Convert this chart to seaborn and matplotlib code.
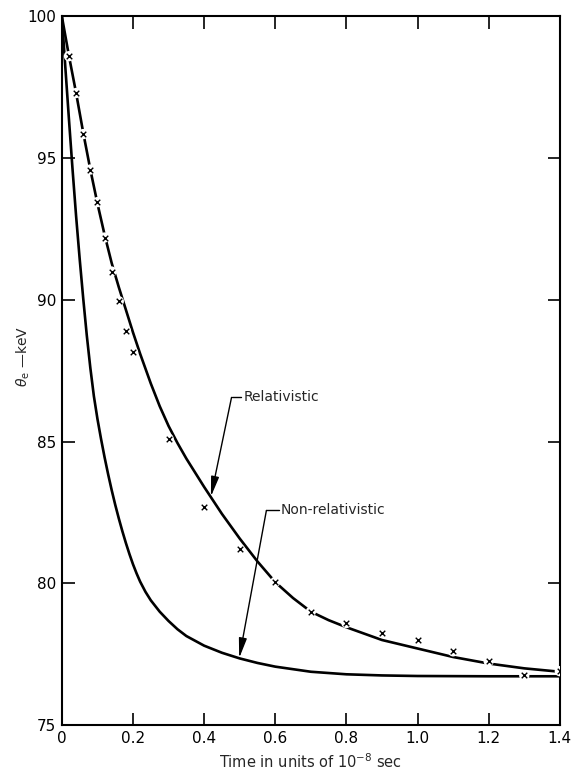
import matplotlib
matplotlib.use("Agg")
import matplotlib.pyplot as plt
import seaborn as sns
import pandas as pd

# ---- data ----
rel_t = [0.0, 0.02, 0.04, 0.06, 0.08, 0.10, 0.12, 0.14, 0.16, 0.18, 0.20, 0.22,
         0.25, 0.275, 0.30, 0.325, 0.35, 0.40, 0.45, 0.50, 0.55, 0.60, 0.65, 0.70,
         0.75, 0.80, 0.90, 1.00, 1.10, 1.20, 1.30, 1.40]
rel_e = [100.0, 98.6, 97.3, 95.9, 94.6, 93.4, 92.3, 91.3, 90.45, 89.65, 88.85, 88.1,
         87.05, 86.25, 85.55, 84.95, 84.4, 83.4, 82.45, 81.58, 80.77, 80.04, 79.48, 79.0,
         78.7, 78.45, 78.0, 77.7, 77.4, 77.17, 77.0, 76.88]

nonrel_t = [0.0, 0.01, 0.02, 0.03, 0.04, 0.05, 0.06, 0.07, 0.08, 0.09, 0.10, 0.11,
            0.12, 0.13, 0.14, 0.15, 0.16, 0.17, 0.18, 0.19, 0.20, 0.21, 0.22, 0.235,
            0.25, 0.275, 0.30, 0.325, 0.35, 0.40, 0.45, 0.50, 0.55, 0.60, 0.70, 0.80,
            0.90, 1.00, 1.20, 1.40]
nonrel_e = [100.0, 98.15, 96.35, 94.6, 92.95, 91.45, 90.05, 88.75, 87.6, 86.6, 85.8, 85.1,
            84.45, 83.85, 83.29, 82.77, 82.29, 81.84, 81.42, 81.03, 80.67, 80.35, 80.06, 79.7,
            79.4, 79.0, 78.67, 78.38, 78.14, 77.8, 77.55, 77.35, 77.19, 77.06, 76.88, 76.79,
            76.75, 76.73, 76.72, 76.72]

pts_t = [0.02, 0.04, 0.06, 0.08, 0.10, 0.12, 0.14, 0.16, 0.18, 0.20, 0.3, 0.4,
         0.5, 0.6, 0.7, 0.8, 0.9, 1.0, 1.1, 1.2, 1.3, 1.4]
pts_e = [98.6, 97.3, 95.85, 94.6, 93.45, 92.2, 91.0, 89.95, 88.9, 88.15, 85.1, 82.7,
         81.2, 80.05, 79.0, 78.6, 78.25, 78.0, 77.6, 77.25, 76.75, 76.9]

x_ticks = [0, 0.2, 0.4, 0.6, 0.8, 1.0, 1.2, 1.4]
x_labels = ["0", "0.2", "0.4", "0.6", "0.8", "1.0", "1.2", "1.4"]
y_ticks = [75, 80, 85, 90, 95, 100]
y_labels = ["75", "80", "85", "90", "95", "100"]

rel_df = pd.DataFrame({"t": rel_t, "e": rel_e})
non_df = pd.DataFrame({"t": nonrel_t, "e": nonrel_e})
pts_df = pd.DataFrame({"t": pts_t, "e": pts_e})

sns.set_theme(style="ticks")
plt.rcParams["font.family"] = ["DejaVu Sans"]
plt.rcParams["mathtext.fontset"] = "dejavusans"

fig = plt.figure(figsize=(5.73, 7.70), dpi=100)
ax = fig.add_axes([0.108, 0.0584, 0.869, 0.9202])

sns.lineplot(data=rel_df, x="t", y="e", ax=ax, color="black", lw=1.9,
             sort=False, estimator=None, zorder=2)
sns.lineplot(data=non_df, x="t", y="e", ax=ax, color="black", lw=1.9,
             sort=False, estimator=None, zorder=2)
# white halos that break the curves at the measured points
sns.scatterplot(data=pts_df, x="t", y="e", ax=ax, color="white", s=55,
                edgecolor="none", zorder=3)
sns.scatterplot(data=pts_df, x="t", y="e", ax=ax, marker="x", color="black",
                s=16, linewidth=1.0, zorder=4)

# annotations
arrow = dict(arrowstyle="-|>,head_length=1.0,head_width=0.2",
             color="black", lw=1.0, shrinkA=0, shrinkB=0)
ax.annotate("", xy=(0.419, 83.06), xytext=(0.477, 86.56), arrowprops=arrow)
ax.plot([0.477, 0.505], [86.56, 86.56], color="black", lw=1.0)
ax.text(0.511, 86.56, "Relativistic", fontsize=10, va="center", ha="left")

ax.annotate("", xy=(0.4985, 77.36), xytext=(0.575, 82.57), arrowprops=arrow)
ax.plot([0.575, 0.611], [82.57, 82.57], color="black", lw=1.0)
ax.text(0.616, 82.57, "Non-relativistic", fontsize=10, va="center", ha="left")

ax.set_xlim(0, 1.4)
ax.set_ylim(75, 100)
ax.set_xticks(x_ticks)
ax.set_xticklabels(x_labels)
ax.set_yticks(y_ticks)
ax.set_yticklabels(y_labels)
ax.tick_params(direction="in", top=True, right=True, length=9, width=1.2,
               labelsize=11, pad=4, colors="black")
for s in ax.spines.values():
    s.set_linewidth(1.5)
    s.set_color("black")

ax.set_xlabel(r"Time in units of 10$^{-8}$ sec", fontsize=10.5, labelpad=5)
ax.set_ylabel(r"$\theta_{\rm e}$ —keV", fontsize=10)
ax.yaxis.set_label_coords(-0.06, 0.52)

fig.savefig("out.png", dpi=100, facecolor="white")
